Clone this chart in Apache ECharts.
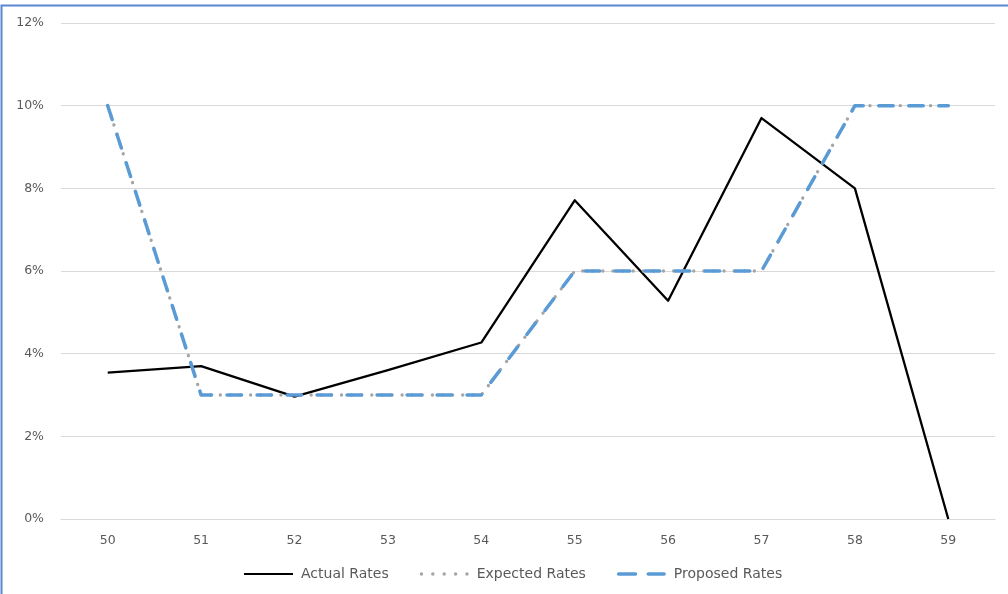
<!DOCTYPE html>
<html>
<head>
<meta charset="utf-8">
<script src="https://cdn.jsdelivr.net/npm/echarts@6/dist/echarts.min.js"></script>
<style>
html,body{margin:0;padding:0;background:#fff;}
#chart{width:1008px;height:594px;}
</style>
</head>
<body>
<div id="chart"></div>
<script>
var categories = ['50','51','52','53','54','55','56','57','58','59'];
var actualRates = [3.54, 3.70, 2.96, 3.60, 4.27, 7.71, 5.28, 9.70, 8.00, 0];
var expectedRates = [10, 3, 3, 3, 3, 6, 6, 6, 10, 10];
var proposedRates = [10, 3, 3, 3, 3, 6, 6, 6, 10, 10];
var seriesNames = ['Actual Rates', 'Expected Rates', 'Proposed Rates'];

function dotsPath() {
  var p = '', r = 1.7, xs = [1.7, 12.8, 23.9, 35.0, 46.1];
  for (var i = 0; i < xs.length; i++) {
    var x = xs[i];
    p += 'M' + (x - r) + ',5 A' + r + ',' + r + ' 0 1,0 ' + (x + r) + ',5 A' + r + ',' + r + ' 0 1,0 ' + (x - r) + ',5 Z ';
  }
  return 'path://' + p;
}
var dashIcon = 'path://M1.75,3.25 L18.25,3.25 A1.75,1.75 0 0,1 18.25,6.75 L1.75,6.75 A1.75,1.75 0 0,1 1.75,3.25 Z M30.75,3.25 L46.25,3.25 A1.75,1.75 0 0,1 46.25,6.75 L30.75,6.75 A1.75,1.75 0 0,1 30.75,3.25 Z';

var chart = echarts.init(document.getElementById('chart'), null, {renderer: 'canvas'});
var fontFam = '"DejaVu Sans", sans-serif';
chart.setOption({
  animation: false,
  backgroundColor: '#ffffff',
  graphic: [{
    type: 'rect',
    shape: {x: 1.5, y: 5.5, width: 1030, height: 620},
    style: {fill: 'none', stroke: '#5b87d2', lineWidth: 2},
    silent: true,
    z: 100
  }],
  grid: {left: 61, right: 13, top: 23, bottom: 75, containLabel: false},
  legend: {
    bottom: 8,
    left: 239,
    itemWidth: 49,
    itemHeight: 10,
    itemGap: 31,
    textStyle: {color: '#595959', fontSize: 14, fontFamily: fontFam, padding: [0,0,0,3]},
    data: [
      {name: seriesNames[0], icon: 'path://M0,4.1 L48,4.1 L48,5.9 L0,5.9 Z', itemStyle: {color: '#000000'}},
      {name: seriesNames[1], icon: dotsPath(), itemStyle: {color: '#a5a5a5'}},
      {name: seriesNames[2], icon: dashIcon, itemStyle: {color: '#5b9bd5'}}
    ]
  },
  xAxis: {
    type: 'category',
    data: categories,
    boundaryGap: true,
    axisLine: {show: true, lineStyle: {color: '#d9d9d9', width: 1}},
    axisTick: {show: false},
    axisLabel: {color: '#595959', fontSize: 12.5, fontFamily: fontFam, margin: 15},
    splitLine: {show: false}
  },
  yAxis: {
    type: 'value',
    min: 0,
    max: 12,
    interval: 2,
    axisLine: {show: false},
    axisTick: {show: false},
    axisLabel: {color: '#595959', fontSize: 12.5, fontFamily: fontFam, margin: 17, formatter: '{value}%'},
    splitLine: {show: true, lineStyle: {color: '#d9d9d9', width: 1}}
  },
  series: [
    {
      name: seriesNames[0],
      type: 'line',
      data: actualRates,
      symbol: 'none',
      lineStyle: {color: '#000000', width: 2.3, join: 'round'},
      itemStyle: {color: '#000000'},
      z: 3
    },
    {
      name: seriesNames[1],
      type: 'line',
      data: expectedRates,
      symbol: 'none',
      lineStyle: {color: '#a5a5a5', width: 3.3, type: [0.1, 10], cap: 'round', join: 'round'},
      itemStyle: {color: '#a5a5a5'},
      z: 4
    },
    {
      name: seriesNames[2],
      type: 'line',
      data: proposedRates,
      symbol: 'none',
      lineStyle: {color: '#5b9bd5', width: 3.5, type: [14.5, 15.5], cap: 'round', join: 'round'},
      itemStyle: {color: '#5b9bd5'},
      z: 5
    }
  ]
});
</script>
</body>
</html>
